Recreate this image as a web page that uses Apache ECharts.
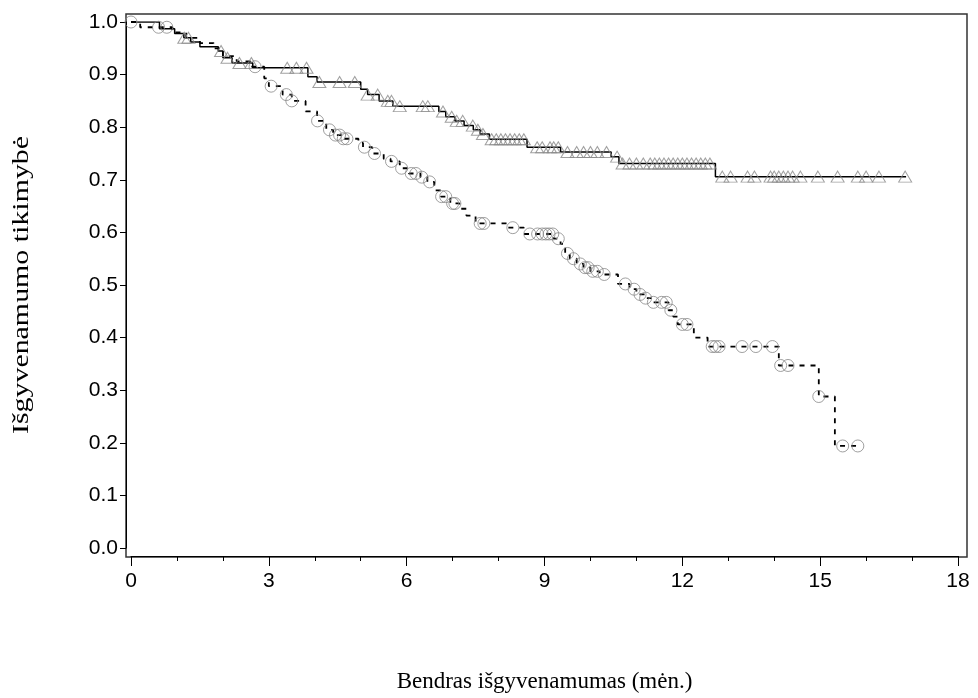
<!DOCTYPE html>
<html><head><meta charset="utf-8">
<script src="https://cdn.jsdelivr.net/npm/echarts@6/dist/echarts.min.js"></script>
<style>html,body{margin:0;padding:0;background:#fff}#c{width:978px;height:698px}</style>
</head><body><div id="c"></div>
<script>
// Kaplan-Meier step points [time (months), survival]
var solidSteps = [[0,1.0],[0.62,0.987],[0.95,0.978],[1.15,0.97],[1.3,0.962],[1.5,0.953],[1.9,0.945],[2.0,0.932],[2.2,0.922],[2.65,0.913],[3.85,0.896],[4.05,0.886],[5.0,0.872],[5.15,0.862],[5.4,0.85],[5.7,0.84],[6.7,0.83],[6.85,0.82],[7.05,0.812],[7.25,0.803],[7.45,0.795],[7.6,0.787],[7.8,0.777],[8.62,0.762],[9.35,0.753],[10.45,0.744],[10.62,0.731],[12.72,0.706]];
var solidEnd = 16.87;
var dashedSteps = [[0,1.0],[0.2,0.99],[0.9,0.98],[1.2,0.97],[1.5,0.96],[1.8,0.95],[2.0,0.935],[2.3,0.925],[2.6,0.915],[2.9,0.893],[3.0,0.878],[3.3,0.862],[3.5,0.85],[3.8,0.83],[4.05,0.812],[4.25,0.795],[4.4,0.785],[4.6,0.778],[4.95,0.77],[5.05,0.762],[5.25,0.75],[5.5,0.74],[5.65,0.735],[5.85,0.722],[6.05,0.712],[6.3,0.705],[6.45,0.696],[6.6,0.68],[6.75,0.668],[6.95,0.655],[7.15,0.645],[7.3,0.632],[7.5,0.617],[8.2,0.609],[8.55,0.597],[9.2,0.588],[9.35,0.578],[9.45,0.56],[9.55,0.55],[9.7,0.54],[9.85,0.533],[10.0,0.526],[10.2,0.52],[10.6,0.502],[10.85,0.492],[11.0,0.482],[11.2,0.475],[11.35,0.467],[11.7,0.452],[11.8,0.44],[11.9,0.425],[12.25,0.40],[12.55,0.383],[14.1,0.347],[14.97,0.288],[15.32,0.194]];
var dashedEnd = 15.82;
// censoring times
var solidCensor = [1.16,1.25,1.96,2.1,2.36,2.62,3.4,3.6,3.82,4.1,4.54,4.87,5.15,5.37,5.59,5.67,5.85,6.35,6.46,6.79,6.98,7.09,7.22,7.44,7.55,7.66,7.85,7.95,8.05,8.15,8.25,8.35,8.45,8.55,8.84,8.95,9.12,9.2,9.3,9.5,9.7,9.85,10.0,10.15,10.35,10.58,10.7,10.85,11.0,11.15,11.3,11.4,11.5,11.6,11.7,11.8,11.9,12.0,12.1,12.2,12.3,12.4,12.5,12.6,12.87,13.05,13.42,13.57,13.92,14.0,14.1,14.2,14.3,14.4,14.57,14.95,15.38,15.82,16.0,16.28,16.85];
var dashedCensor = [0.0,0.6,0.78,2.7,3.05,3.38,3.5,4.06,4.32,4.45,4.54,4.62,4.7,5.08,5.3,5.67,5.89,6.1,6.2,6.33,6.5,6.76,6.85,7.0,7.05,7.6,7.68,8.31,8.68,8.85,8.95,9.03,9.1,9.18,9.3,9.5,9.63,9.78,9.88,9.95,10.05,10.15,10.3,10.76,10.95,11.08,11.2,11.37,11.55,11.65,11.75,12.0,12.1,12.65,12.72,12.8,13.3,13.6,13.96,14.14,14.3,14.97,15.49,15.82];
var xTicks = [0,3,6,9,12,15,18];
var yTitle = 'Išgyvenamumo tikimybė';
var xTitle = 'Bendras išgyvenamumas (mėn.)';

function surv(steps, t){ var s = steps[0][1]; for (var i=0;i<steps.length;i++){ if (steps[i][0] <= t + 1e-9) s = steps[i][1]; else break; } return s; }
function lineData(steps, end){ var d = steps.slice(); d.push([end, steps[steps.length-1][1]]); return d; }
function censorData(steps, times){ return times.map(function(t){ return [t, surv(steps, t)]; }); }

var chart = echarts.init(document.getElementById('c'), null, {renderer:'canvas'});
var tickFont = {fontFamily:'Liberation Sans Narrow, Arial Narrow, Liberation Sans, sans-serif', fontSize:21, color:'#000'};
chart.setOption({
  animation:false,
  backgroundColor:'#fff',
  grid:{left:131, right:20, top:22, bottom:149, containLabel:false},
  xAxis:{type:'value', min:0, max:18, interval:3, offset:8,
    axisLine:{show:true, onZero:false, lineStyle:{color:'#000', width:1}},
    axisTick:{show:true, length:10, lineStyle:{color:'#000'}},
    minorTick:{show:true, splitNumber:3, length:5, lineStyle:{color:'#000'}},
    splitLine:{show:false},
    axisLabel:Object.assign({margin:15, formatter:function(v){ return xTicks.indexOf(v)>=0 ? String(v) : ''; }}, tickFont),
    name:xTitle, nameLocation:'middle', nameGap:114,
    nameTextStyle:{fontFamily:'Liberation Serif, Times New Roman, serif', fontSize:23, color:'#000'}
  },
  yAxis:{type:'value', min:0, max:1, interval:0.1, offset:5,
    axisLine:{show:true, onZero:false, lineStyle:{color:'#000', width:1}},
    axisTick:{show:true, length:6, lineStyle:{color:'#000'}},
    splitLine:{show:false},
    axisLabel:Object.assign({margin:8, formatter:function(v){ return v.toFixed(1); }}, tickFont)
  },
  graphic:[
    {type:'rect', shape:{x:126, y:14, width:841, height:543}, style:{fill:'none', stroke:'#333', lineWidth:1.5}, silent:true, z:0},
    {type:'text', x:22, y:285, rotation:Math.PI/2, scaleX:1.3, silent:true,
      style:{text:yTitle, font:'23px "Liberation Serif", "Times New Roman", serif', fill:'#000', textAlign:'center', textVerticalAlign:'middle'}}
  ],
  series:[
    {type:'line', data:lineData(solidSteps, solidEnd), step:'end', showSymbol:false, lineStyle:{color:'#000', width:1.5}, z:3},
    {type:'line', data:lineData(dashedSteps, dashedEnd), step:'end', showSymbol:false, lineStyle:{color:'#000', width:1.8, type:[5,6]}, z:3},
    {type:'scatter', data:censorData(solidSteps, solidCensor), symbol:'triangle', symbolSize:[13,11],
      itemStyle:{color:'rgba(255,255,255,0)', borderColor:'#888', borderWidth:1}, z:4},
    {type:'scatter', data:censorData(dashedSteps, dashedCensor), symbol:'circle', symbolSize:12,
      itemStyle:{color:'rgba(255,255,255,0)', borderColor:'#888', borderWidth:1}, z:4}
  ]
});
</script></body></html>
